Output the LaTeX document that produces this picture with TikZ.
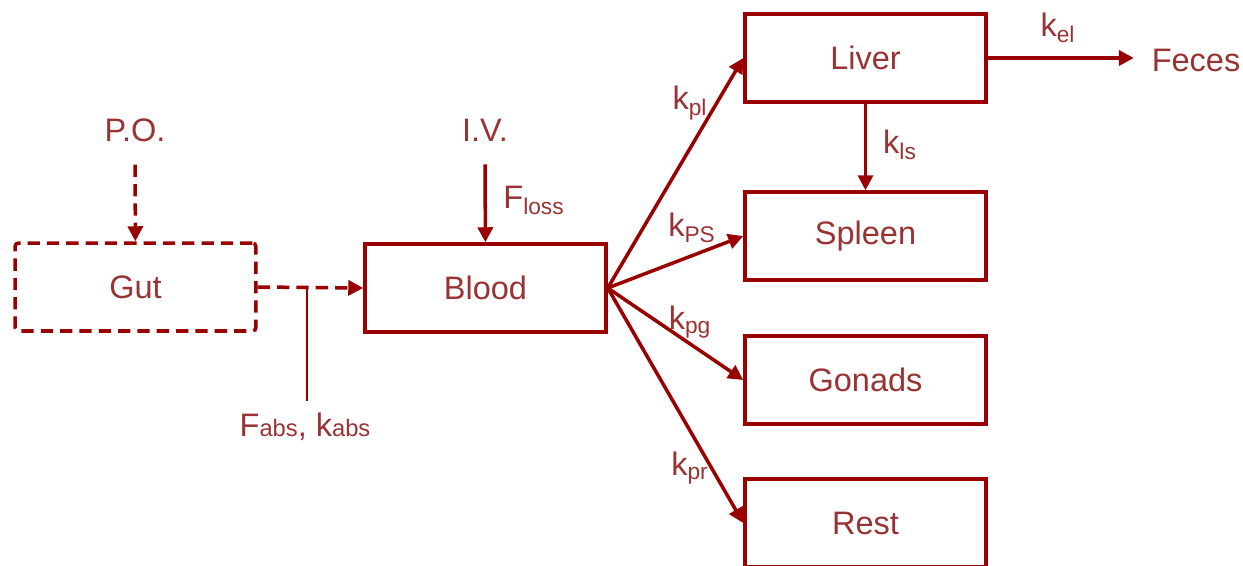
\documentclass[tikz,border=0pt]{standalone}
\usepackage{fontspec}
\setmainfont{Liberation Sans}
\usetikzlibrary{arrows.meta,positioning}
\definecolor{boxred}{RGB}{153,0,0}
\definecolor{labelred}{RGB}{153,51,51}
\tikzset{
    >={Triangle[length=0.3cm,width=0.3cm]},
    organ/.style={
        rectangle,
        draw=boxred, line width=2pt,
        minimum width=4.82cm,
        minimum height=1.76cm,
        text=labelred,
        font=\fontsize{18.5}{21}\selectfont
    },
    flow/.style={draw=boxred, line width=2pt, ->},
    dashflow/.style={flow, dash pattern=on 7pt off 4pt},
    rate/.style={text=labelred, font=\fontsize{18.5}{21}\selectfont, inner sep=1pt}
}
\begin{document}
\begin{tikzpicture}[x=0.02cm, y=-0.02cm]
    \path[use as bounding box] (0,0) rectangle (1243,565);
    \clip (0,0) rectangle (1243,565);

    % compartments
    \node[organ, rounded corners=2pt, dash pattern=on 7pt off 4pt] (gut) at (135.5,287) {Gut};
    \node[organ] (blood) at (485.5,288) {Blood};
    \node[organ] (liver) at (865.5,58) {Liver};
    \node[organ] (spleen) at (865.5,236) {Spleen};
    \node[organ] (gonads) at (865.5,380) {Gonads};
    \node[organ] (rest) at (865.5,523) {Rest};

    % doses and outputs
    \node[rate] (po) at (135,130) {P.O.};
    \node[rate] (iv) at (485,130) {I.V.};
    \node[rate] (feces) at (1196,60) {Feces};

    % rate labels
    \node[rate] (floss) at (534,200) {F\textsubscript{loss}};
    \node[rate] (fabs) at (305,427) {F{\fontsize{13.5}{15}\selectfont abs}, k{\fontsize{13.5}{15}\selectfont abs}};
    \node[rate] (kpl) at (690,103) {k\textsubscript{pl}};
    \node[rate] (kps) at (692,228) {k\textsubscript{PS}};
    \node[rate] (kpg) at (690,322) {k\textsubscript{pg}};
    \node[rate] (kpr) at (690,468) {k\textsubscript{pr}};
    \node[rate] (kel) at (1058,28) {k\textsubscript{el}};
    \node[rate] (kls) at (900,145) {k\textsubscript{ls}};

    % oral route
    \draw[dashflow, shorten <=12pt] (po) -- (gut);
    \draw[dashflow] (gut.east) -- (blood.west);
    \coordinate (tap) at (307,288);
    \draw[draw=boxred, line width=1.1pt, shorten >=6pt] (tap) -- (tap |- fabs.north);

    % intravenous route
    \draw[flow, shorten <=12pt] (iv) -- (blood);

    % distribution
    \draw[flow] (blood.east) -- (liver.west);
    \draw[flow] (blood.east) -- (spleen.west);
    \draw[flow] (blood.east) -- (gonads.west);
    \draw[flow] (blood.east) -- (rest.west);
    \draw[flow] (liver) -- (spleen);

    % elimination
    \draw[flow, line width=2.6pt, shorten >=9pt] (liver.east) -- (liver.east -| feces.west);
\end{tikzpicture}
\end{document}
